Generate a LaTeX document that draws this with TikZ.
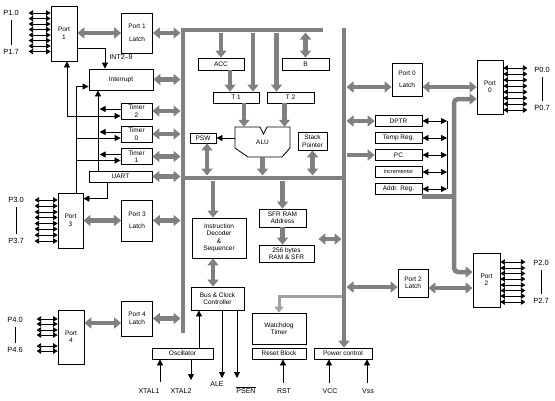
\documentclass[tikz,border=0pt]{standalone}
\usepackage{fontspec}
\setmainfont{Liberation Sans}
\usetikzlibrary{arrows.meta, calc}
\definecolor{busgray}{RGB}{128,128,128}

\begin{document}
\begin{tikzpicture}[
  x=1pt, y=-1pt,
  font=\fontsize{6.5}{7.5}\selectfont,
  >={Triangle[length=6pt,width=6pt]},
  box/.style={rectangle, draw, line width=0.8pt, inner sep=0pt, align=center},
  port/.style={box, minimum width=26pt, minimum height=54pt},
  latch/.style={box, minimum width=31pt},
  tmr/.style={box, minimum width=31pt, minimum height=16pt},
  reg/.style={box, minimum width=47pt, minimum height=11pt},
  pinlbl/.style={font=\fontsize{7.5}{9}\selectfont, inner sep=0pt},
  sig/.style={font=\fontsize{7}{8}\selectfont, inner sep=0pt},
  wire/.style={line width=0.8pt},
  pin/.style={line width=0.8pt, {Triangle[length=4.5pt,width=5.5pt]}-{Triangle[length=4.5pt,width=5.5pt]}},
  bus/.style={busgray, line width=4.5pt},
  garrow/.style={busgray, line width=4.5pt, -{Triangle[length=7pt,width=11pt]}},
  gdbl/.style={busgray, line width=4.5pt, {Triangle[length=7pt,width=11pt]}-{Triangle[length=7pt,width=11pt]}}
]
  \useasboundingbox (0,0) rectangle (555,400);

  \coordinate (lb) at (180.5,0);
  \coordinate (rb) at (346.5,0);
  \coordinate (rbw) at (341.5,0);
  \coordinate (tb) at (0,32.5);
  \coordinate (mbt) at (0,175.5);
  \coordinate (mbb) at (0,180.5);

  % left side
  \node[port, minimum height=55pt] (port1) at (64,33.5) {Port\\1};
  \node[latch, minimum height=40pt] (p1latch) at (137,33) {Port 1\\[6pt]Latch};
  \node[box, minimum width=64pt, minimum height=21pt] (intr) at (121,79.5) {Interrupt};
  \node[tmr] (tmr2) at (136.5,111) {Timer\\2};
  \node[tmr] (tmr0) at (136.5,134) {Timer\\0};
  \node[tmr] (tmr1) at (136.5,156.5) {Timer\\1};
  \node[box, minimum width=63pt, minimum height=11pt] (uart) at (120.5,176.5) {UART};
  \node[port, minimum width=25pt, minimum height=55pt] (port3) at (70.5,220.5) {Port\\3};
  \node[latch, minimum height=41pt] (p3latch) at (137,220.5) {Port 3\\[5pt]Latch};
  \node[port] (port4) at (71,337) {Port\\4};
  \node[latch, minimum height=35pt] (p4latch) at (137,318.5) {Port 4\\Latch};

  % core
  \node[box, minimum width=46pt, minimum height=12pt] (acc) at (221,64) {ACC};
  \node[box, minimum width=47pt, minimum height=12pt] (breg) at (305.5,64) {B};
  \node[box, minimum width=46pt, minimum height=11pt] (t1) at (236,97.5) {T 1};
  \node[box, minimum width=47pt, minimum height=11pt] (t2) at (290.5,97.5) {T 2};
  \node[minimum width=55pt, minimum height=30pt, inner sep=0pt] (alu) at (262.5,142) {ALU};
  \draw[wire] (235,127) -- (260,127) -- (263.5,134) -- (267,127) -- (290,127) -- (290,148)
    -- (282,157) -- (248,157) -- (235,148) -- cycle;
  \node[box, minimum width=26pt, minimum height=10pt] (psw) at (203,138) {PSW};
  \node[box, minimum width=29pt, minimum height=18pt] (stackp) at (312.5,141) {Stack\\Pointer};
  \node[box, minimum width=54pt, minimum height=40pt] (instr) at (219,238) {Instruction\\Decoder\\\&\\Sequencer};
  \node[box, minimum width=47pt, minimum height=18pt] (sfr) at (282.5,218) {SFR RAM\\Address};
  \node[box, minimum width=55pt, minimum height=17pt] (ram) at (286.5,253.5) {256 bytes\\RAM \& SFR};
  \node[box, minimum width=53pt, minimum height=23pt] (busclk) at (217.5,298.5) {Bus \& Clock\\Controller};
  \node[box, minimum width=54pt, minimum height=31pt] (wdt) at (279,328.5) {Watchdog\\Timer};
  \node[box, minimum width=54pt, minimum height=11pt] (rstblk) at (279,353.5) {Reset Block};
  \node[box, minimum width=58pt, minimum height=11pt] (pwr) at (343,353.5) {Power control};
  \node[box, minimum width=61pt, minimum height=11pt] (osc) at (182.5,353.5) {Oscillator};

  % right side
  \node[latch, minimum width=30pt, minimum height=33pt] (p0latch) at (407,79.5) {Port 0\\[5pt]Latch};
  \node[port] (port0) at (490,87) {Port\\0};
  \node[reg] (dptr) at (398.5,121) {DPTR};
  \node[reg] (tmpreg) at (398.5,138) {Temp Reg.};
  \node[reg] (pc) at (398.5,155) {PC};
  \node[reg, font=\fontsize{5.5}{6.5}\selectfont] (incr) at (398.5,172) {Incrementor};
  \node[reg] (addr) at (398.5,189) {Addr. Reg.};
  \node[latch, minimum width=30pt, minimum height=28pt] (p2latch) at (413,283) {Port 2\\Latch};
  \node[port, minimum width=27pt] (port2) at (486.5,280) {Port\\2};

  % pins
  \node[pinlbl] (p10) at (11,13) {P1.0};
  \node[pinlbl] (p17) at (11,52) {P1.7};
  \node[pinlbl] (p30) at (16,200) {P3.0};
  \node[pinlbl] (p37) at (16,241) {P3.7};
  \node[pinlbl] (p40) at (15,320) {P4.0};
  \node[pinlbl] (p46) at (15,350) {P4.6};
  \node[pinlbl] (p00) at (542,70) {P0.0};
  \node[pinlbl] (p07) at (542,108) {P0.7};
  \node[pinlbl] (p20) at (541,263) {P2.0};
  \node[pinlbl] (p27) at (541,301) {P2.7};
  \foreach \a/\b in {p10/p17,p30/p37,p40/p46,p00/p07,p20/p27}
    \draw[wire, shorten <=4pt, shorten >=4pt] (\a.south) -- (\b.north);
  \foreach \y in {13,18.5,24,29.5,35,40.5,46,51.5}
    \draw[pin] (port1.west |- 0,\y) -- ++(-22,0);
  \foreach \y in {200,206,212,217.5,223.5,229,235,241}
    \draw[pin] (port3.west |- 0,\y) -- ++(-23,0);
  \foreach \y in {319,324,330,335,346,351}
    \draw[pin] (port4.west |- 0,\y) -- ++(-21,0);
  \foreach \y in {68,74,80,86,92,98,104,110}
    \draw[pin] (port0.east |- 0,\y) -- ++(24,0);
  \foreach \y in {262,268,273.5,279,285,290.5,296,302}
    \draw[pin] (port2.east |- 0,\y) -- ++(25,0);

  % buses
  \draw[bus, line join=miter] (183,333) -- (183,30) -- (323,30);
  \draw[bus] (183,178) -- (344,178);
  \draw[garrow] (344,27.75) -- (pwr.north -| 344,0);

  \draw[gdbl] (port1.east |- p1latch.west) -- (p1latch.west);
  \draw[gdbl] (p1latch.east) -- (p1latch.east -| lb);
  \foreach \b in {intr,tmr2,tmr0,tmr1,uart}
    \draw[gdbl] (\b.east) -- (\b.east -| lb);
  \draw[gdbl] (port3.east |- p3latch.west) -- (p3latch.west);
  \draw[gdbl] (p3latch.east) -- (p3latch.east -| lb);
  \draw[gdbl] ($(port4.east)+(0,-14)$) -- ($(p4latch.west)+(0,4.5)$);
  \draw[gdbl] (p4latch.east) -- (p4latch.east -| lb);

  \draw[garrow] (acc.north |- tb) -- (acc.north);
  \draw[gdbl] (breg.north |- tb) -- (breg.north);
  \draw[garrow] ($(acc.south)+(9,0)$) -- ($(t1.north)+(-6,0)$);
  \draw[garrow] ($(t1.north |- tb)+(17,0)$) -- ($(t1.north)+(17,0)$);
  \draw[garrow] ($(t2.north |- tb)+(-14,0)$) -- ($(t2.north)+(-14,0)$);
  \draw[garrow] ($(t1.south)+(8,0)$) -- ($(alu.north)+(-18.5,0)$);
  \draw[garrow] ($(t2.south)+(-6,0)$) -- ($(alu.north)+(22,0)$);
  \draw[wire, ->] (alu.west |- psw.east) -- (psw.east);
  \draw[gdbl] ($(psw.south)+(4,0)$) -- ($(psw.south |- mbt)+(4,0)$);
  \draw[garrow] (alu.south) -- (alu.south |- mbt);
  \draw[gdbl] (stackp.south) -- (stackp.south |- mbt);
  \draw[garrow] ($(instr.north |- mbb)+(-6,0)$) -- ($(instr.north)+(-6,0)$);
  \draw[garrow] (sfr.north |- mbb) -- (sfr.north);
  \draw[garrow] (sfr.south) -- (sfr.south |- ram.north);
  \draw[gdbl] ($(ram.east)+(4,-14.5)$) -- ($(ram.east -| rbw)+(0,-14.5)$);
  \draw[gdbl] ($(instr.south)+(-6,0)$) -- ($(busclk.north)+(-4.5,0)$);
  \coordinate (wdj) at (341.5,296);
  \draw[busgray!75, line width=3pt, -{Triangle[length=6pt,width=9pt]}] (wdj) -| (wdt.north);

  \draw[gdbl] ($(p0latch.west -| rb)+(0,7.5)$) -- ($(p0latch.west)+(0,7.5)$);
  \draw[gdbl] ($(p0latch.east)+(0,7.5)$) -- (port0.west);
  \draw[gdbl] (dptr.west -| rb) -- (dptr.west);
  \draw[garrow] (pc.west -| rb) -- (pc.west);
  \draw[gdbl] ($(p2latch.west -| rb)+(0,4)$) -- ($(p2latch.west)+(0,4)$);
  \draw[gdbl] ($(p2latch.east)+(0,5)$) -- ($(p2latch.east -| port2.west)+(0,5)$);
  \coordinate (pj) at (454,196.5);
  \draw[bus] (addr.east |- pj) -- ($(pj)+(2.25,0)$);
  \draw[garrow, rounded corners=4pt] (pj) |- (port0.west |- 0,99);
  \draw[garrow, rounded corners=4pt] (pj) |- (port2.west |- 0,272);

  % registers
  \coordinate (rv) at (447,0);
  \draw[wire] (rv |- dptr.east) -- (rv |- addr.east);
  \foreach \r in {dptr,tmpreg,pc,incr,addr}
    \draw[wire, <->] (\r.east) -- (rv |- \r.east);

  % control lines
  \draw[wire, ->] (port1.east |- 0,48) -| ($(intr.north)+(-16,0)$);
  \node[sig] (int29) at (121,57) {INT2--9};
  \draw[wire, <->] ([xshift=3pt]port1.south) |- ([yshift=-5pt]tmr2.west);
  \coordinate (iv) at (98,0);
  \draw[wire, ->] (iv |- uart.north) -- (iv |- intr.south);
  \foreach \t in {tmr2,tmr0,tmr1}
    \draw[wire, ->] ([yshift=2pt]\t.west) -- ++(-21,0);
  \draw[wire, ->] ([xshift=5.5pt]port3.north) |- ([yshift=-7pt]intr.west);
  \foreach \t in {tmr0,tmr1}
    \draw[wire, <-] ([yshift=-4pt]\t.west) -- ++(-45,0);
  \draw[wire, ->] ([xshift=-13.5pt]uart.south) |- ([yshift=-6pt]port3.north east);

  \draw[wire, ->] ([xshift=16.5pt]osc.north) -- ($(busclk.south)+(-18.5,0)$);
  \coordinate (xt1) at (160,382);
  \coordinate (xt2) at (191,380);
  \coordinate (ale) at (222,378);
  \coordinate (psen) at (237,378);
  \coordinate (rstin) at (283,383);
  \coordinate (vcc) at (329,383);
  \coordinate (vss) at (367,383);
  \draw[wire, ->] (xt1) -- (xt1 |- osc.south);
  \draw[wire, ->] (xt2 |- osc.south) -- (xt2);
  \draw[wire, ->] (ale |- busclk.south) -- (ale);
  \draw[wire, ->] (psen |- busclk.south) -- (psen);
  \draw[wire, ->] (rstin) -- (rstin |- rstblk.south);
  \draw[wire, ->] (vcc) -- (vcc |- pwr.south);
  \draw[wire, ->] (vss) -- (vss |- pwr.south);
  \node[sig] (xtal1lbl) at (149,391) {XTAL1};
  \node[sig] (xtal2lbl) at (181,391) {XTAL2};
  \node[sig] (alelbl) at (217,384) {ALE};
  \node[sig] (psenlbl) at (246,390) {$\overline{\mbox{PSEN}}$};
  \node[sig] (rstlbl) at (284,391) {RST};
  \node[sig] (vcclbl) at (330,391) {VCC};
  \node[sig] (vsslbl) at (368,391) {Vss};
\end{tikzpicture}
\end{document}
